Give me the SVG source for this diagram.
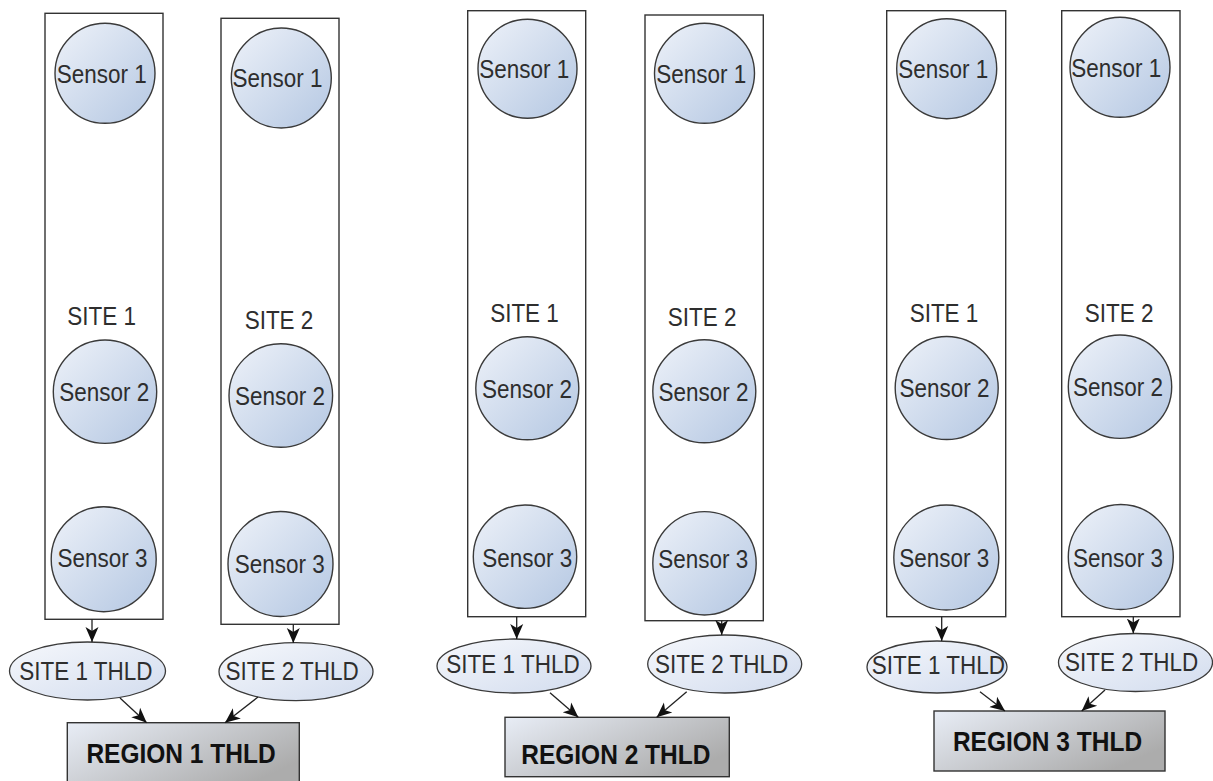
<svg xmlns="http://www.w3.org/2000/svg" width="1213" height="781" viewBox="0 0 1213 781">
<defs>
<linearGradient id="gSensor" x1="0" y1="0" x2="1" y2="1">
<stop offset="0" stop-color="#eef2f9"/>
<stop offset="1" stop-color="#b4c7e2"/>
</linearGradient>
<linearGradient id="gThld" x1="0" y1="0" x2="1" y2="1">
<stop offset="0" stop-color="#f6f8fc"/>
<stop offset="1" stop-color="#d2dcee"/>
</linearGradient>
<linearGradient id="gRegion" x1="0" y1="0" x2="1" y2="0.6">
<stop offset="0" stop-color="#e8edf6"/>
<stop offset="1" stop-color="#acacac"/>
</linearGradient>
<marker id="arr" markerUnits="userSpaceOnUse" markerWidth="16" markerHeight="16" viewBox="0 0 16 16" refX="15" refY="8" orient="auto">
<path d="M0,1.5 L15,8 L0,14.5 L4,8 z" fill="#111"/>
</marker>
<style>
.site{fill:#fff;stroke:#333;stroke-width:1.4}
.sensor{fill:url(#gSensor);stroke:#3a3a3a;stroke-width:1.4}
.thld{fill:url(#gThld);stroke:#3a3a3a;stroke-width:1.3}
.region{fill:url(#gRegion);stroke:#333;stroke-width:1.4}
.t{font-family:"Liberation Sans",Arial,sans-serif;font-size:22.5px;fill:#2e2e2e;text-anchor:middle}
.tb{font-family:"Liberation Sans",Arial,sans-serif;font-size:24.5px;font-weight:bold;fill:#111;text-anchor:middle}
.edge{stroke:#222;stroke-width:1.3;fill:none;marker-end:url(#arr)}
</style>
</defs>
<rect width="1213" height="781" fill="#fff"/>

<!-- Region 1 -->
<g id="r1-site1">
<rect class="site" x="45" y="13.3" width="118" height="606"/>
<text class="t" transform="translate(101.7,325) scale(1,1.12)">SITE 1</text>
</g>
<g id="r1-site1-s1"><circle class="sensor" cx="105" cy="73.3" r="50"/><text class="t" transform="translate(101.7,82.7) scale(1,1.12)">Sensor 1</text></g>
<g id="r1-site1-s2"><circle class="sensor" cx="105" cy="391.7" r="51.7"/><text class="t" transform="translate(104.2,400.7) scale(1,1.12)">Sensor 2</text></g>
<g id="r1-site1-s3"><circle class="sensor" cx="103.7" cy="559.2" r="52.5"/><text class="t" transform="translate(102.5,567.3) scale(1,1.12)">Sensor 3</text></g>

<g id="r1-site2">
<rect class="site" x="221" y="18.3" width="118" height="606"/>
<text class="t" transform="translate(279,329.3) scale(1,1.12)">SITE 2</text>
</g>
<g id="r1-site2-s1"><circle class="sensor" cx="281.3" cy="78" r="50"/><text class="t" transform="translate(277.5,87.3) scale(1,1.12)">Sensor 1</text></g>
<g id="r1-site2-s2"><circle class="sensor" cx="280.8" cy="395.5" r="51.8"/><text class="t" transform="translate(280,405) scale(1,1.12)">Sensor 2</text></g>
<g id="r1-site2-s3"><circle class="sensor" cx="280.5" cy="564" r="52.5"/><text class="t" transform="translate(279.7,572.7) scale(1,1.12)">Sensor 3</text></g>

<g id="r1-thld1"><ellipse class="thld" cx="87.5" cy="671" rx="78" ry="29"/><text class="t" transform="translate(85.8,680) scale(1,1.12)">SITE 1 THLD</text></g>
<g id="r1-thld2"><ellipse class="thld" cx="296" cy="671.7" rx="77" ry="29"/><text class="t" transform="translate(292.2,680) scale(1,1.12)">SITE 2 THLD</text></g>
<g id="region1"><rect class="region" x="67.3" y="722.7" width="232" height="64"/><text class="tb" transform="translate(181,762.7) scale(1,1.1)">REGION 1 THLD</text></g>

<!-- Region 2 -->
<g id="r2-site1">
<rect class="site" x="467.7" y="10.7" width="118" height="606"/>
<text class="t" transform="translate(524.5,322.3) scale(1,1.12)">SITE 1</text>
</g>
<g id="r2-site1-s1"><circle class="sensor" cx="527.5" cy="68.7" r="49.5"/><text class="t" transform="translate(524.3,78.3) scale(1,1.12)">Sensor 1</text></g>
<g id="r2-site1-s2"><circle class="sensor" cx="527.3" cy="388.3" r="51.5"/><text class="t" transform="translate(527,397.5) scale(1,1.12)">Sensor 2</text></g>
<g id="r2-site1-s3"><circle class="sensor" cx="525" cy="556.7" r="51.7"/><text class="t" transform="translate(527.2,566.7) scale(1,1.12)">Sensor 3</text></g>

<g id="r2-site2">
<rect class="site" x="645" y="15" width="118.3" height="605.7"/>
<text class="t" transform="translate(702.2,326) scale(1,1.12)">SITE 2</text>
</g>
<g id="r2-site2-s1"><circle class="sensor" cx="704.5" cy="73.3" r="50"/><text class="t" transform="translate(701.3,82.7) scale(1,1.12)">Sensor 1</text></g>
<g id="r2-site2-s2"><circle class="sensor" cx="704.3" cy="391.3" r="51.5"/><text class="t" transform="translate(703.5,400.5) scale(1,1.12)">Sensor 2</text></g>
<g id="r2-site2-s3"><circle class="sensor" cx="704.5" cy="563.3" r="51.7"/><text class="t" transform="translate(703.3,568.3) scale(1,1.12)">Sensor 3</text></g>

<g id="r2-thld1"><ellipse class="thld" cx="514" cy="666" rx="77" ry="27"/><text class="t" transform="translate(513,672.7) scale(1,1.12)">SITE 1 THLD</text></g>
<g id="r2-thld2"><ellipse class="thld" cx="724.7" cy="664" rx="77" ry="29"/><text class="t" transform="translate(721.7,672.7) scale(1,1.12)">SITE 2 THLD</text></g>
<g id="region2"><rect class="region" x="505" y="717.3" width="224.3" height="59.4"/><text class="tb" transform="translate(615.8,764) scale(1,1.1)">REGION 2 THLD</text></g>

<!-- Region 3 -->
<g id="r3-site1">
<rect class="site" x="886.7" y="10.7" width="119" height="606"/>
<text class="t" transform="translate(944,322.3) scale(1,1.12)">SITE 1</text>
</g>
<g id="r3-site1-s1"><circle class="sensor" cx="946.7" cy="68.7" r="50"/><text class="t" transform="translate(943.3,78.3) scale(1,1.12)">Sensor 1</text></g>
<g id="r3-site1-s2"><circle class="sensor" cx="946.7" cy="388" r="51.5"/><text class="t" transform="translate(944.5,397.3) scale(1,1.12)">Sensor 2</text></g>
<g id="r3-site1-s3"><circle class="sensor" cx="946.3" cy="557.5" r="52.5"/><text class="t" transform="translate(944.2,566.7) scale(1,1.12)">Sensor 3</text></g>

<g id="r3-site2">
<rect class="site" x="1061.7" y="10.7" width="118.3" height="606"/>
<text class="t" transform="translate(1119.2,322.3) scale(1,1.12)">SITE 2</text>
</g>
<g id="r3-site2-s1"><circle class="sensor" cx="1120" cy="67.3" r="50"/><text class="t" transform="translate(1116.3,76.7) scale(1,1.12)">Sensor 1</text></g>
<g id="r3-site2-s2"><circle class="sensor" cx="1120" cy="386.7" r="51.7"/><text class="t" transform="translate(1118,396) scale(1,1.12)">Sensor 2</text></g>
<g id="r3-site2-s3"><circle class="sensor" cx="1120.8" cy="557" r="52.5"/><text class="t" transform="translate(1118,567.3) scale(1,1.12)">Sensor 3</text></g>

<g id="r3-thld1"><ellipse class="thld" cx="937" cy="667" rx="70" ry="26"/><text class="t" transform="translate(938.3,674) scale(1,1.12)">SITE 1 THLD</text></g>
<g id="r3-thld2"><ellipse class="thld" cx="1135.5" cy="662.5" rx="77" ry="29"/><text class="t" transform="translate(1131.7,670.7) scale(1,1.12)">SITE 2 THLD</text></g>
<g id="region3"><rect class="region" x="934" y="711" width="231" height="60"/><text class="tb" transform="translate(1047.5,751) scale(1,1.1)">REGION 3 THLD</text></g>

<g id="connectors">
<line class="edge" x1="92" y1="619.3" x2="92" y2="642"/>
<line class="edge" x1="293.3" y1="624.3" x2="293.3" y2="643"/>
<line class="edge" x1="120" y1="698" x2="146.7" y2="722.7"/>
<line class="edge" x1="258" y1="697" x2="225" y2="722.7"/>
<line class="edge" x1="516.7" y1="616.7" x2="516.7" y2="639"/>
<line class="edge" x1="721.7" y1="620.7" x2="721.7" y2="635"/>
<line class="edge" x1="550" y1="692.7" x2="578.3" y2="717.3"/>
<line class="edge" x1="686.7" y1="691.7" x2="656.7" y2="717.3"/>
<line class="edge" x1="941.7" y1="616.7" x2="941.7" y2="641"/>
<line class="edge" x1="1133.3" y1="616.7" x2="1133.3" y2="633.5"/>
<line class="edge" x1="980" y1="691.7" x2="1005" y2="711"/>
<line class="edge" x1="1105" y1="690" x2="1081.7" y2="711"/>
</g>
</svg>
